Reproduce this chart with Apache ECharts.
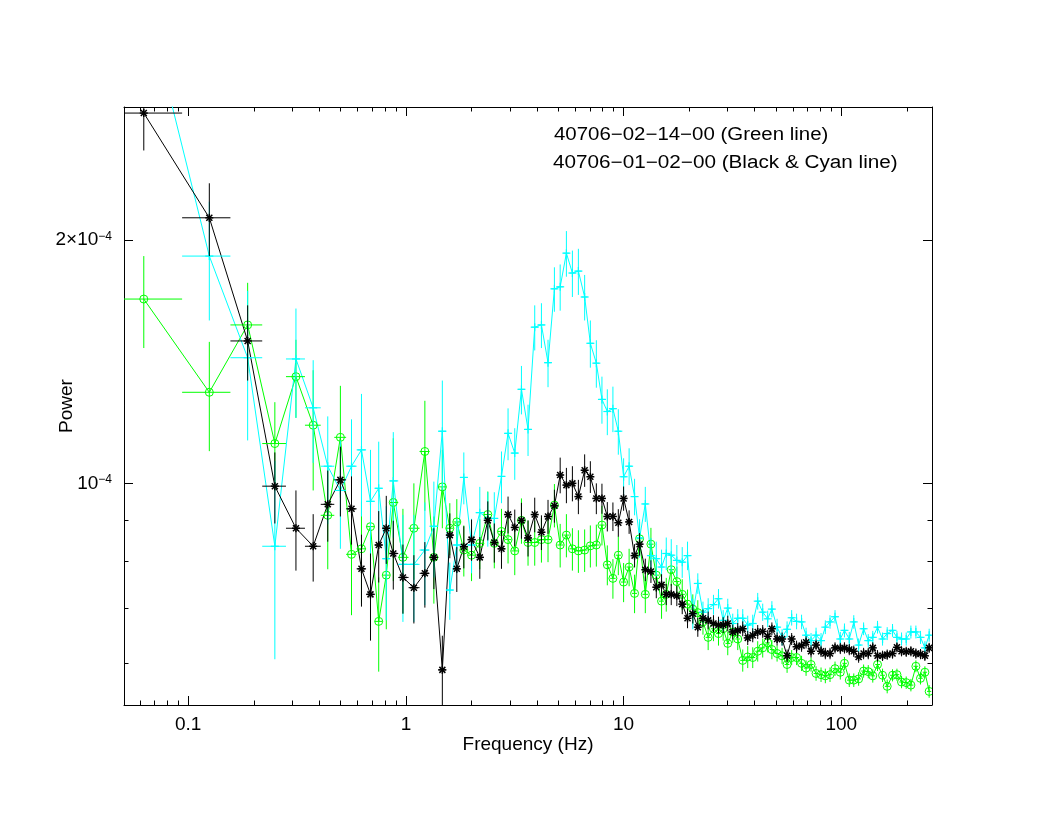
<!DOCTYPE html>
<html>
<head>
<meta charset="utf-8">
<script src="https://cdn.jsdelivr.net/npm/echarts@6/dist/echarts.min.js"></script>
<style>html,body{margin:0;padding:0;background:#fff}#c{width:1056px;height:816px}</style>
</head>
<body>
<div id="c"></div>
<script>
// ---------- data (frequency in Hz, power in units of 1e-5) ----------
const POWER_UNIT = 1e-5;
const FREQ = [0.0625,0.125,0.1875,0.25,0.3125,0.375,0.4375,0.5,0.5625,0.625,0.6875,0.75,0.8125,0.875,
0.969,1.088,1.222,1.344,1.470,
1.591,1.713,1.845,2.002,2.185,2.378,2.547,2.748,2.946,3.162,3.394,3.639,3.906,4.193,4.496,4.810,
5.113,5.460,5.818,6.198,6.623,7.035,7.494,7.953,8.418,8.931,9.456,
10.0,10.60,11.23,11.84,12.58,13.35,14.13,14.94,15.70,16.55,17.56,18.59,19.66,20.79,
21.92,23.15,24.46,25.87,27.28,28.67,30.09,31.72,33.44,35.26,37.17,39.19,41.31,43.55,45.91,47.99,
50.70,53.46,56.36,59.16,62.31,65.69,68.89,72.61,76.56,80.71,84.46,88.76,93.57,98.95,103.4,108.8,114.1,120.1,126.6,133.0,139.5,146.7,154.7,162.5,171.9,180.1,189.1,198.7,208.8,220.1,231.1,242.1,253.3];

const BLACK_POWER = [28.7,21.3,15.0,9.92,8.8,8.36,9.42,10.1,9.3,7.84,7.29,8.39,8.8,8.19,
7.65,7.43,7.74,8.1,5.88,
8.63,7.84,8.35,8.52,8.1,9.0,8.45,8.3,9.15,8.82,9.0,8.56,9.15,8.7,9.1,9.38,
10.24,9.95,10.0,9.63,10.38,10.19,9.58,9.58,9.1,9.1,8.94,
9.58,8.96,8.14,8.41,7.82,7.78,7.44,7.49,7.29,7.29,7.26,7.09,6.81,6.9,
6.64,6.81,6.77,6.71,6.68,6.68,6.71,6.55,6.58,6.61,6.44,6.49,6.55,6.56,6.47,6.61,
6.42,6.42,6.12,6.42,6.28,6.3,6.36,6.2,6.31,6.2,6.16,6.16,6.26,6.25,6.26,6.23,6.2,6.1,6.16,6.16,6.26,6.12,6.12,6.14,6.16,6.27,6.2,6.19,6.2,6.16,6.15,6.12,6.26];
const BLACK_ERR = [2.9,2.2,1.6,1.0,1.0,0.8,0.95,1.0,0.9,0.8,0.9,0.85,0.85,0.8,
0.75,0.72,0.72,0.7,0.6,
0.55,0.5,0.5,0.5,0.48,0.5,0.47,0.46,0.48,0.46,0.46,0.44,0.45,0.43,0.44,0.44,
0.52,0.5,0.5,0.47,0.48,0.46,0.42,0.41,0.38,0.37,0.35,
0.33,0.3,0.27,0.27,0.25,0.25,0.23,0.23,0.22,0.22,0.21,0.2,0.19,0.19,
0.18,0.17,0.17,0.16,0.16,0.15,0.15,0.14,0.14,0.14,0.13,0.13,0.13,0.12,0.12,0.12,
0.12,0.12,0.11,0.11,0.11,0.11,0.11,0.11,0.10,0.10,0.10,0.10,0.10,0.10,0.10,0.10,0.10,0.10,0.10,0.10,0.10,0.10,0.09,0.09,0.09,0.09,0.09,0.09,0.09,0.09,0.09,0.09,0.09];

const GREEN_POWER = [16.9,12.96,15.7,11.2,13.55,11.8,9.13,11.4,8.17,8.3,8.84,6.75,7.7,9.47,
8.1,8.8,10.95,8.1,9.9,
8.8,8.96,8.27,8.15,8.43,9.15,8.43,8.72,8.52,8.25,9.0,8.45,8.45,8.52,8.52,9.4,
8.39,8.63,8.3,8.25,8.27,8.37,8.39,8.88,7.93,7.63,8.15,
7.55,7.88,7.31,8.54,7.29,8.41,7.7,7.15,7.29,7.82,7.56,7.29,7.09,6.99,
6.92,6.74,6.45,6.61,6.52,6.61,6.34,6.55,6.42,6.04,6.1,6.09,6.2,6.26,6.35,6.23,
6.16,6.12,5.97,6.09,6.09,5.99,5.91,5.97,5.82,5.8,5.78,5.8,5.9,5.84,5.99,5.71,5.71,5.73,5.86,5.85,5.78,5.97,5.79,5.61,5.79,5.8,5.68,5.67,5.63,5.94,5.74,5.84,5.53];
const GREEN_ERR = [2.2,2.0,2.0,1.4,1.5,2.0,1.3,1.8,1.3,1.2,1.3,0.9,1.1,1.9,
1.2,1.2,1.7,1.0,1.1,
0.65,0.6,0.6,0.58,0.6,0.62,0.58,0.58,0.56,0.55,0.58,0.54,0.54,0.54,0.53,0.58,
0.52,0.53,0.5,0.5,0.5,0.5,0.5,0.5,0.45,0.43,0.45,
0.42,0.42,0.4,0.42,0.38,0.4,0.36,0.35,0.35,0.35,0.33,0.32,0.3,0.3,
0.25,0.24,0.23,0.23,0.22,0.22,0.21,0.2,0.2,0.19,0.19,0.18,0.18,0.17,0.17,0.17,
0.14,0.14,0.14,0.13,0.13,0.13,0.13,0.12,0.12,0.12,0.12,0.12,0.12,0.12,0.11,0.11,0.11,0.11,0.11,0.11,0.11,0.11,0.11,0.11,0.10,0.10,0.10,0.10,0.10,0.10,0.10,0.10,0.10];

const CYAN_POWER = [40.6,19.1,14.3,8.36,14.25,12.4,10.5,9.8,10.5,11.0,9.5,9.86,8.07,10.07,
7.94,7.94,8.27,8.85,11.6,
7.38,8.39,10.17,8.39,9.2,9.05,9.05,10.2,11.53,10.9,13.07,11.66,15.6,15.7,14.1,17.4,
17.5,19.26,18.2,18.3,17.0,14.9,14.08,12.7,12.27,12.37,11.6,
10.19,10.5,9.63,8.56,9.43,8.14,8.07,7.88,8.19,8.15,8.03,7.99,8.14,6.9,
7.52,6.93,7.0,7.08,7.2,6.77,7.01,6.71,6.81,6.81,6.68,6.71,7.15,6.93,6.8,6.99,
6.64,6.45,6.6,6.82,6.75,6.74,6.49,6.39,6.49,6.39,6.64,6.74,6.84,6.42,6.58,6.42,6.74,6.31,6.61,6.39,6.45,6.64,6.42,6.52,6.58,6.45,6.42,6.42,6.55,6.55,6.45,6.26,6.49];
const CYAN_ERR = [6.0,3.2,3.0,2.3,2.2,1.8,1.6,1.5,1.5,1.9,1.5,1.4,1.3,1.5,
1.2,1.2,1.2,1.2,1.8,
0.6,0.65,0.75,0.65,0.7,0.7,0.7,0.75,0.85,0.8,0.9,0.85,1.0,1.0,0.95,1.1,
1.15,1.25,1.2,1.2,1.1,1.0,0.95,0.85,0.8,0.8,0.75,
0.55,0.55,0.5,0.47,0.47,0.42,0.4,0.4,0.38,0.38,0.36,0.35,0.33,0.3,
0.22,0.21,0.21,0.2,0.2,0.2,0.19,0.19,0.18,0.18,0.18,0.17,0.17,0.17,0.16,0.16,
0.16,0.15,0.15,0.15,0.15,0.14,0.14,0.14,0.14,0.14,0.13,0.13,0.13,0.13,0.13,0.13,0.13,0.12,0.12,0.12,0.12,0.12,0.12,0.12,0.12,0.12,0.12,0.12,0.12,0.12,0.12,0.12,0.12];

// ---------- axes ----------
const X_MIN = 0.0507, X_MAX = 261;
const Y_MIN = 5.32e-5, Y_MAX = 2.92e-4;
const X_MAJOR = [0.1, 1, 10, 100];
const X_LABELS = ['0.1', '1', '10', '100'];
const X_MINOR = [0.06,0.07,0.08,0.09,0.2,0.3,0.4,0.5,0.6,0.7,0.8,0.9,2,3,4,5,6,7,8,9,20,30,40,50,60,70,80,90,200];
const Y_MAJOR = [1e-4, 2e-4];
const Y_LABELS = ['10{s|\u22124}', '2\u00d710{s|\u22124}'];
const Y_MINOR = [6e-5, 7e-5, 8e-5, 9e-5];
const LEGEND_LINES = ['40706\u221202\u221214\u221200 (Green line)', '40706\u221201\u221202\u221200 (Black & Cyan line)'];
const X_NAME = 'Frequency (Hz)';
const Y_NAME = 'Power';

const FONT = '"Liberation Sans", Arial, Helvetica, sans-serif';
const L = Math.log10;

function build(powers, errs) {
  const n = FREQ.length, line = [], bars = [];
  for (let i = 0; i < n; i++) {
    const f = FREQ[i], p = powers[i] * POWER_UNIT, e = errs[i] * POWER_UNIT;
    const lo = i > 0 ? (FREQ[i - 1] + f) / 2 : f - (FREQ[i + 1] - f) / 2;
    const hi = i < n - 1 ? (f + FREQ[i + 1]) / 2 : f + (f - FREQ[i - 1]) / 2;
    line.push([L(f), L(p)]);
    bars.push([L(f), L(p), L(lo), L(hi), L(p - e), L(p + e)]);
  }
  return { line, bars };
}

function makeRender(color, marker) {
  return function (params, api) {
    const c = api.coord([api.value(0), api.value(1)]);
    const a = api.coord([api.value(2), api.value(1)]);
    const b = api.coord([api.value(3), api.value(1)]);
    const d = api.coord([api.value(0), api.value(4)]);
    const u = api.coord([api.value(0), api.value(5)]);
    const st = { stroke: color, lineWidth: 1, fill: null };
    const ch = [
      { type: 'line', shape: { x1: a[0], y1: a[1], x2: b[0], y2: b[1] }, style: st },
      { type: 'line', shape: { x1: d[0], y1: d[1], x2: u[0], y2: u[1] }, style: st }
    ];
    const s = 4;
    if (marker === 'circle') {
      ch.push({ type: 'circle', shape: { cx: c[0], cy: c[1], r: s }, style: { stroke: color, lineWidth: 1, fill: null } });
    } else if (marker === 'star') {
      const m = { stroke: color, lineWidth: 1.5, fill: null };
      ch.push({ type: 'line', shape: { x1: c[0] - s, y1: c[1], x2: c[0] + s, y2: c[1] }, style: m });
      ch.push({ type: 'line', shape: { x1: c[0], y1: c[1] - s, x2: c[0], y2: c[1] + s }, style: m });
      ch.push({ type: 'line', shape: { x1: c[0] - s * 0.75, y1: c[1] - s * 0.75, x2: c[0] + s * 0.75, y2: c[1] + s * 0.75 }, style: m });
      ch.push({ type: 'line', shape: { x1: c[0] - s * 0.75, y1: c[1] + s * 0.75, x2: c[0] + s * 0.75, y2: c[1] - s * 0.75 }, style: m });
    } else {
      const m = { stroke: color, lineWidth: 1.2, fill: null };
      ch.push({ type: 'line', shape: { x1: c[0] - s, y1: c[1], x2: c[0] + s, y2: c[1] }, style: m });
      ch.push({ type: 'line', shape: { x1: c[0], y1: c[1] - s, x2: c[0], y2: c[1] + s }, style: m });
    }
    return { type: 'group', children: ch };
  };
}

const sets = [
  { name: 'green', color: '#00ff00', marker: 'circle', d: build(GREEN_POWER, GREEN_ERR) },
  { name: 'cyan', color: '#00ffff', marker: 'plus', d: build(CYAN_POWER, CYAN_ERR) },
  { name: 'black', color: '#000000', marker: 'star', d: build(BLACK_POWER, BLACK_ERR) }
];

const series = [];
sets.forEach(function (s) {
  series.push({
    type: 'line', name: s.name, data: s.d.line, showSymbol: false, symbol: 'none',
    lineStyle: { color: s.color, width: 1 }, clip: true, z: 2, silent: true
  });
  series.push({
    type: 'custom', name: s.name + '-err', data: s.d.bars, renderItem: makeRender(s.color, s.marker),
    clip: true, z: 3, silent: true, encode: { x: [0, 2, 3], y: [1, 4, 5] }
  });
});

function nearestLabel(v, vals, labels) {
  let best = 0;
  for (let i = 1; i < vals.length; i++) if (Math.abs(L(vals[i]) - v) < Math.abs(L(vals[best]) - v)) best = i;
  return labels[best];
}

const lineStyle = { color: '#000', width: 1 };
function xAx(pos, major, withLabel) {
  return {
    type: 'value', position: pos, min: L(X_MIN), max: L(X_MAX),
    axisLine: { show: major, lineStyle: lineStyle, onZero: false },
    axisTick: { show: true, inside: true, length: major ? 9 : 4.5, lineStyle: lineStyle,
      customValues: (major ? X_MAJOR : X_MINOR).map(L) },
    axisLabel: withLabel ? { show: true, customValues: X_MAJOR.map(L), margin: 10,
      fontFamily: FONT, fontSize: 19, color: '#000',
      formatter: function (v) { return nearestLabel(v, X_MAJOR, X_LABELS); } } : { show: false },
    splitLine: { show: false },
    name: withLabel ? X_NAME : '', nameLocation: 'middle', nameGap: 30, nameMoveOverlap: false,
    nameTextStyle: { fontFamily: FONT, fontSize: 19, color: '#000' }
  };
}
function yAx(pos, major, withLabel) {
  return {
    type: 'value', position: pos, min: L(Y_MIN), max: L(Y_MAX),
    axisLine: { show: major, lineStyle: lineStyle, onZero: false },
    axisTick: { show: true, inside: true, length: major ? 9 : 4.5, lineStyle: lineStyle,
      customValues: (major ? Y_MAJOR : Y_MINOR).map(L) },
    axisLabel: withLabel ? { show: true, customValues: Y_MAJOR.map(L), margin: 12,
      fontFamily: FONT, fontSize: 19, color: '#000',
      rich: { s: { fontFamily: FONT, fontSize: 12, verticalAlign: 'top', color: '#000' } },
      formatter: function (v) { return nearestLabel(v, Y_MAJOR, Y_LABELS); } } : { show: false },
    splitLine: { show: false },
    name: withLabel ? Y_NAME : '', nameLocation: 'middle', nameGap: 48, nameRotate: 90, nameMoveOverlap: false,
    nameTextStyle: { fontFamily: FONT, fontSize: 19, color: '#000' }
  };
}

const chart = echarts.init(document.getElementById('c'), null, { renderer: 'canvas' });
chart.setOption({
  animation: false,
  backgroundColor: '#ffffff',
  grid: { left: 124, right: 124, top: 107, bottom: 111, containLabel: false },
  xAxis: [xAx('bottom', true, true), xAx('bottom', false, false), xAx('top', true, false), xAx('top', false, false)],
  yAxis: [yAx('left', true, true), yAx('left', false, false), yAx('right', true, false), yAx('right', false, false)],
  graphic: LEGEND_LINES.map(function (t, i) {
    return { type: 'text', x: 554 - i, y: 135 + 28 * i, scaleX: i === 0 ? 1.135 : 1.15, silent: true,
      style: { text: t, fontFamily: FONT, fontSize: 18, fill: '#000', align: 'left', verticalAlign: 'middle',
               textAlign: 'left', textVerticalAlign: 'middle' } };
  }),
  series: series
});
</script>
</body>
</html>
